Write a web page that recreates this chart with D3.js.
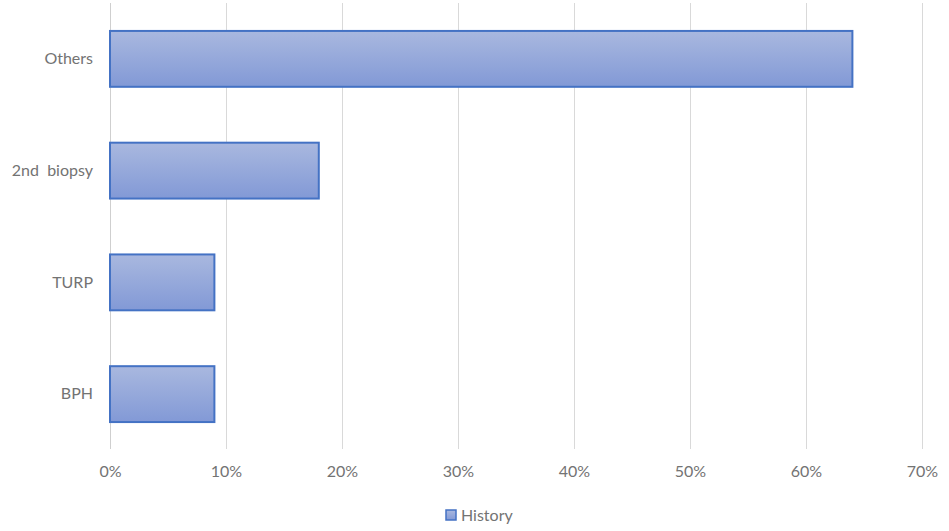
<!DOCTYPE html>
<html>
<head>
<meta charset="utf-8">
<script src="https://cdn.jsdelivr.net/npm/d3@7"></script>
<style>
	body { margin: 0; background: #fff; }
	text { font-family: Lato, "Open Sans", sans-serif; fill: #737373; white-space: pre; }
</style>
</head>
<body>
<div id="container"></div>
<script>
var categories = ['Others', '2nd  biopsy', 'TURP', 'BPH'];
var historyValues = [0.64, 0.18, 0.09, 0.09];
var ticks = [0, 0.1, 0.2, 0.3, 0.4, 0.5, 0.6, 0.7];
var seriesName = 'History';

var width = 949, height = 531;
var margin = {top: 3, right: 27, bottom: 81, left: 110};

var svg = d3.select('#container').append('svg')
	.attr('width', width)
	.attr('height', height);

var x = d3.scaleLinear()
	.domain([0, 0.7])
	.range([margin.left, width - margin.right]);

var y = d3.scaleBand()
	.domain(categories)
	.range([margin.top, height - margin.bottom])
	.paddingInner(0.5)
	.paddingOuter(0.25);

var defs = svg.append('defs');
var grad = defs.append('linearGradient').attr('id', 'barGrad')
	.attr('x1', '0%').attr('x2', '0%').attr('y1', '0%').attr('y2', '100%');
grad.append('stop').attr('offset', '0%').style('stop-color', '#a9b8df');
grad.append('stop').attr('offset', '100%').style('stop-color', '#8299d6');

//gridlines
svg.append('g').selectAll('line')
	.data(ticks)
	.enter().append('line')
	.attr('x1', d => x(d)).attr('x2', d => x(d))
	.attr('y1', margin.top).attr('y2', height - margin.bottom - 1)
	.attr('stroke', d => d === 0 ? '#cfcfcf' : '#d9d9d9')
	.attr('stroke-width', 1)
	.attr('shape-rendering', 'crispEdges');

//x axis labels
var xAxis = d3.axisBottom(x).tickValues(ticks).tickFormat(d3.format('.0%')).tickSize(0).tickPadding(16);
var gx = svg.append('g')
	.attr('transform', 'translate(0,' + (height - margin.bottom) + ')')
	.call(xAxis);
gx.select('.domain').remove();
gx.selectAll('text').style('font-size', '16px').attr('fill', '#737373');

//y axis labels
var yAxis = d3.axisLeft(y).tickSize(0).tickPadding(17);
var gy = svg.append('g')
	.attr('transform', 'translate(' + margin.left + ',0)')
	.call(yAxis);
gy.select('.domain').remove();
gy.selectAll('text').style('font-size', '16px').attr('fill', '#737373');

//bars
svg.append('g').selectAll('rect')
	.data(categories)
	.enter().append('rect')
	.attr('x', x(0))
	.attr('y', d => y(d))
	.attr('width', (d, i) => x(historyValues[i]) - x(0))
	.attr('height', y.bandwidth())
	.attr('fill', 'url(#barGrad)')
	.attr('stroke', '#4472c4')
	.attr('stroke-width', 2);

//legend
var leg = svg.append('g').attr('transform', 'translate(445,509)');
leg.append('rect')
	.attr('x', 1).attr('y', 1)
	.attr('width', 10).attr('height', 10)
	.attr('fill', 'url(#barGrad)')
	.attr('stroke', '#4472c4')
	.attr('stroke-width', 1.5);
leg.append('text')
	.attr('x', 16).attr('y', 6)
	.attr('dy', '0.35em')
	.style('font-size', '16px')
	.text(seriesName);
</script>
</body>
</html>
